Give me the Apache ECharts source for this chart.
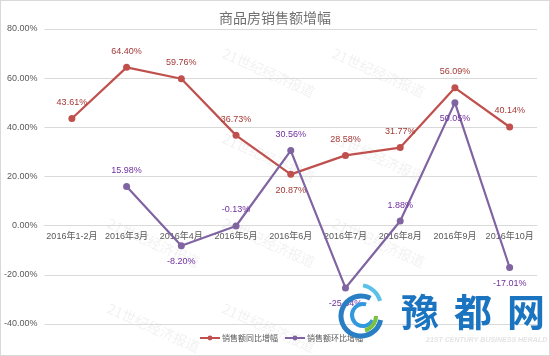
<!DOCTYPE html>
<html><head><meta charset="utf-8">
<script src="https://cdn.jsdelivr.net/npm/echarts@6/dist/echarts.min.js"></script>
<style>html,body{margin:0;padding:0;background:#fff}#c{width:550px;height:356px;box-sizing:border-box;border:1px solid #d9d9d9}</style>
</head><body><div id="c"></div>
<script>
const categories = ['2016年1-2月','2016年3月','2016年4月','2016年5月','2016年6月','2016年7月','2016年8月','2016年9月','2016年10月'];
const yoyValues = [43.61, 64.40, 59.76, 36.73, 20.87, 28.58, 31.77, 56.09, 40.14];
const momValues = [null, 15.98, -8.20, -0.13, 30.56, -25.34, 1.88, 50.05, -17.01];
const momLabelPos = [null,'top','bottom','top','top','bottom','top','bottom','bottom'];
const yoyLabelPos = ['top','top','top','top','bottom','top','top','top','top'];
const seriesNames = ['销售额同比增幅','销售额环比增幅'];

const chart = echarts.init(document.getElementById('c'));
const fnt = 'Liberation Sans, DejaVu Sans, Noto Sans CJK SC';
const wm = [];
[[225,45],[335,45],[225,130],[335,130],[225,215],[335,215],[225,300],[110,215],[110,300]].forEach(p=>{
  wm.push({type:'text',x:p[0],y:p[1],rotation:-0.42,z:0,silent:true,style:{text:'21世纪经济报道',fill:'rgba(0,0,0,0.06)',font:'14px "Noto Sans CJK SC"'}});
});
// logo overlay
const logoChars = ['豫','都','网'];
logoChars.forEach((ch,i)=>{
  wm.push({type:'text',x:400+i*53,y:292,z:100,silent:true,style:{text:ch,fill:'#1b74c0',font:'bold 38px "Noto Sans CJK SC"'}});
});
wm.push({type:'text',x:425,y:336,z:100,silent:true,style:{text:'21ST CENTURY BUSINESS HERALD',fill:'#e4e4e4',font:'italic bold 7px "Liberation Sans"'}});
wm.push({type:'arc',shape:{cx:360,cy:315,r:20,startAngle:0.2,endAngle:5.2},z:100,silent:true,style:{fill:'none',stroke:'#2a7fc4',lineWidth:5}});
wm.push({type:'arc',shape:{cx:362,cy:314,r:11,startAngle:0.5,endAngle:5.0},z:100,silent:true,style:{fill:'none',stroke:'#3399dd',lineWidth:4}});
wm.push({type:'arc',shape:{cx:358,cy:306,r:22,startAngle:4.9,endAngle:6.0},z:100,silent:true,style:{fill:'none',stroke:'#5bc0ea',lineWidth:4}});
wm.push({type:'arc',shape:{cx:360,cy:315,r:15,startAngle:0.0,endAngle:1.3},z:101,silent:true,style:{fill:'none',stroke:'#7cc242',lineWidth:4}});
chart.setOption({
  animation:false,
  title:{text:'商品房销售额增幅',left:'center',top:5,textStyle:{color:'#707070',fontSize:14,fontWeight:'normal',fontFamily:'Noto Sans CJK SC'}},
  graphic: wm,
  legend:{bottom:8,left:193,itemWidth:20,itemHeight:6,itemGap:6,
    textStyle:{color:'#595959',fontSize:8,fontFamily:'Noto Sans CJK SC',padding:[0,0,0,-3]},
    data:seriesNames},
  grid:{left:39,right:12,top:28,bottom:31},
  xAxis:{type:'category',data:categories,boundaryGap:true,position:'bottom',
    axisLine:{onZero:false,lineStyle:{color:'#d9d9d9'}},axisTick:{show:false},
    axisLabel:{color:'#595959',fontSize:9,margin:6,interval:0,fontFamily:fnt}},
  yAxis:{type:'value',min:-40,max:80,interval:20,
    axisLine:{show:false},axisTick:{show:false},
    splitLine:{lineStyle:{color:'#d9d9d9'}},
    axisLabel:{color:'#595959',fontSize:9,margin:7,fontFamily:fnt,formatter:v=>v.toFixed(2)+'%'}},
  series:[
    {name:seriesNames[0],type:'line',data:yoyValues.map((v,i)=>({value:v,label:{position:yoyLabelPos[i]}})),
     symbol:'circle',symbolSize:7,lineStyle:{color:'#C0504D',width:2.2},itemStyle:{color:'#C0504D'},
     label:{show:true,distance:8,color:'#A33A37',fontSize:9,fontFamily:fnt,formatter:p=>p.value.toFixed(2)+'%'}},
    {name:seriesNames[1],type:'line',data:momValues.map((v,i)=>({value:v,label:{position:momLabelPos[i]||'top'}})),
     symbol:'circle',symbolSize:7,lineStyle:{color:'#8064A2',width:2.2},itemStyle:{color:'#8064A2'},
     label:{show:true,distance:8,color:'#7030A0',fontSize:9,fontFamily:fnt,formatter:p=>p.value==null?'':p.value.toFixed(2)+'%'}}
  ]
});
const yZero = chart.convertToPixel({yAxisIndex:0},0);
const yBottom = chart.convertToPixel({yAxisIndex:0},-40);
chart.setOption({xAxis:{offset:-(yBottom - yZero)}});
</script></body></html>
